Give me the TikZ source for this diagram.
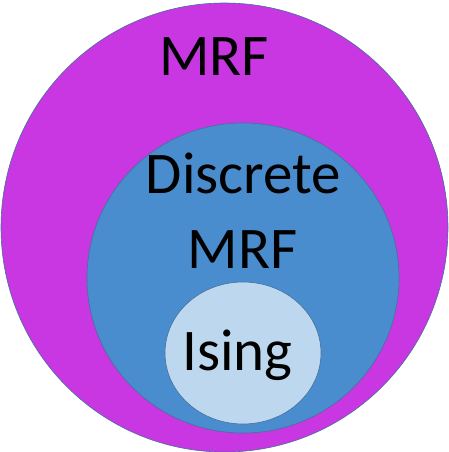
\documentclass[tikz,border=0pt]{standalone}
\usepackage{fontspec}
\setmainfont{Carlito}
\usetikzlibrary{shapes.geometric}
\definecolor{mrfpurple}{HTML}{C837E1}
\definecolor{discblue}{HTML}{4A8DCE}
\definecolor{isingblue}{HTML}{BDD7EE}
\definecolor{edgeblue}{HTML}{41719C}
\tikzset{
  setshape/.style={ellipse, draw=edgeblue, line width=0.6pt, inner sep=0pt},
  lbl/.style={anchor=base, font=\fontsize{59}{62}\selectfont, text=black, inner sep=0pt}
}
\begin{document}
\begin{tikzpicture}[x=1pt,y=-1pt]
\useasboundingbox (0,0) rectangle (449,452);
\node[setshape, fill=mrfpurple, minimum width=447pt, minimum height=449pt] (outer) at (224.5,227.5) {};
\node[setshape, fill=discblue, minimum width=312pt, minimum height=310pt] (middle) at (243,278) {};
\node[setshape, fill=isingblue, minimum width=156pt, minimum height=142pt] (inner) at (243,353) {};
\node[lbl] (t1) at (214,75) {MRF};
\node[lbl] (t2) at (243.5,193) {Discrete};
\node[lbl] (t3) at (242.5,268) {MRF};
\node[lbl] (t4) at (237.5,370) {Ising};
\end{tikzpicture}
\end{document}
